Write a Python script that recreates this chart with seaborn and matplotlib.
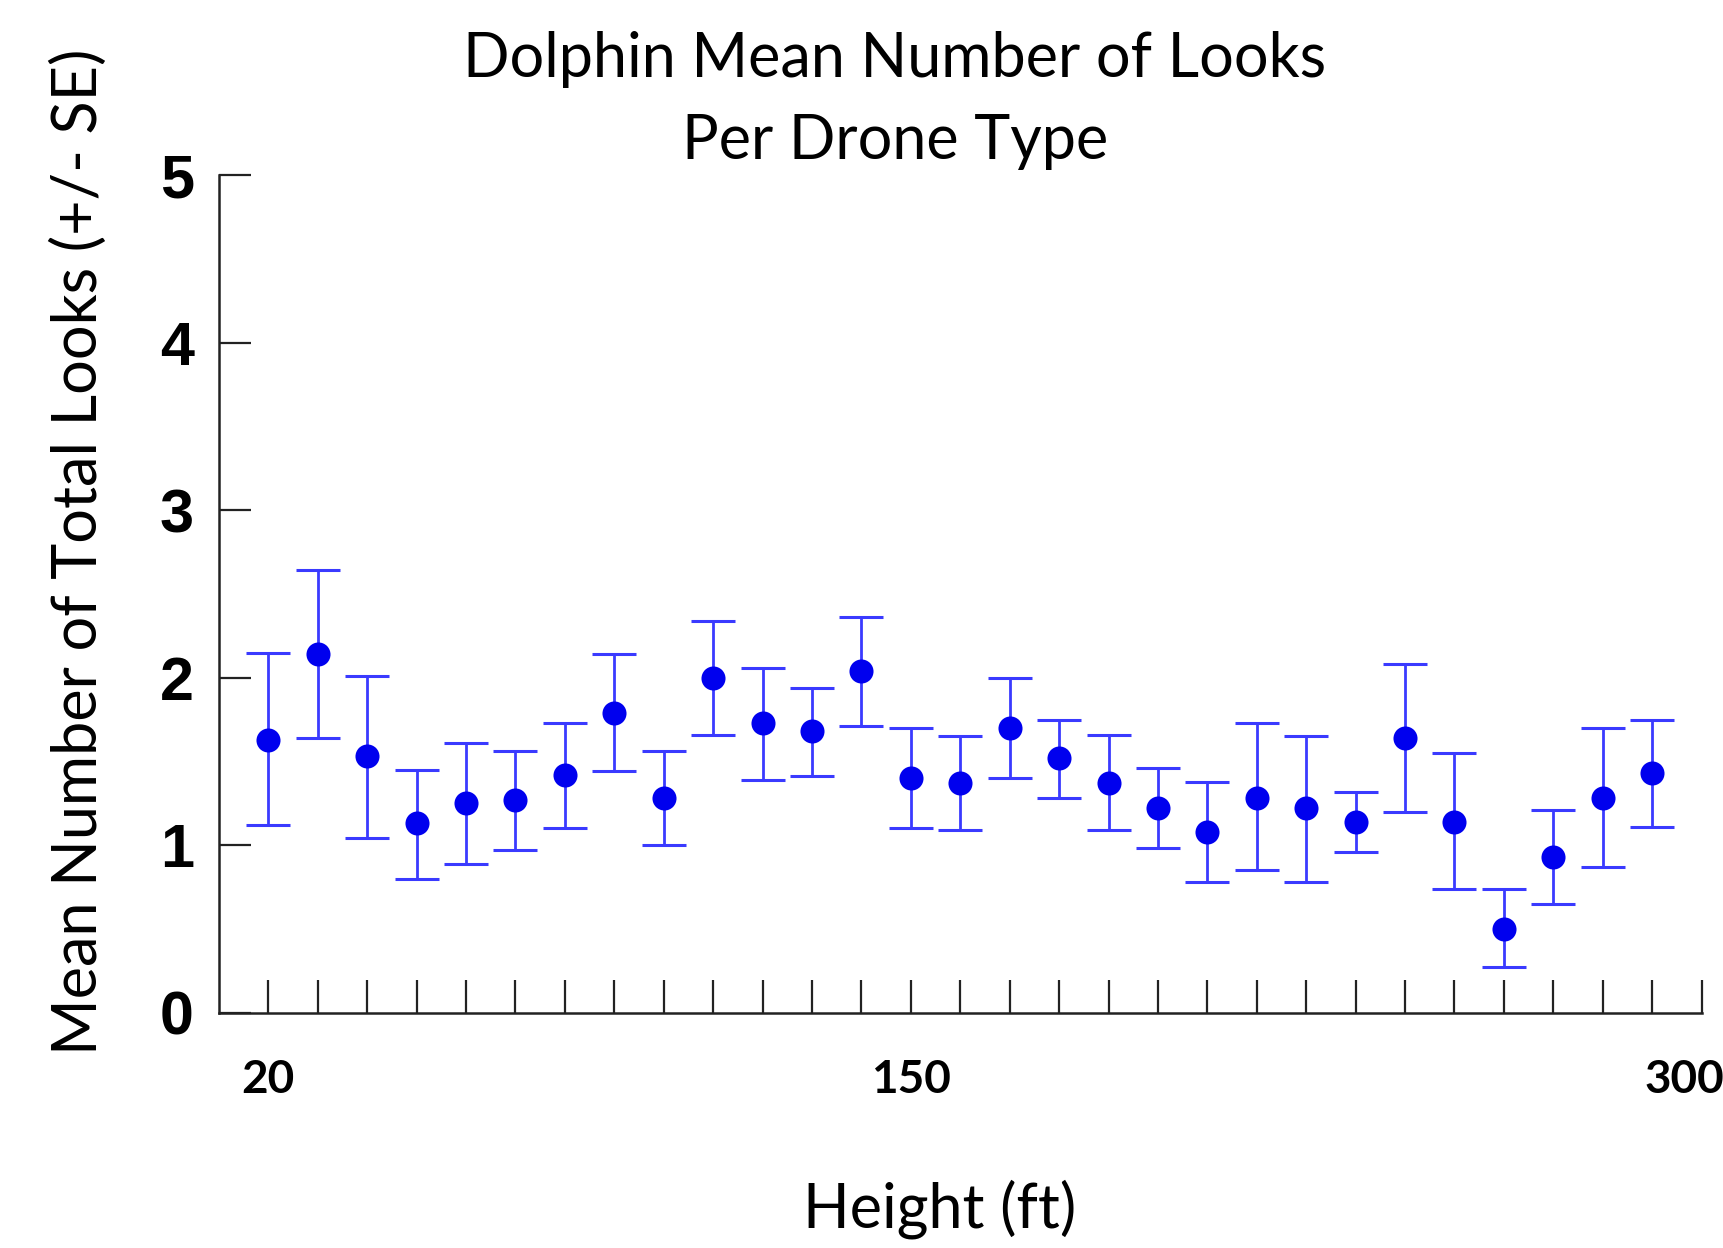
import matplotlib
matplotlib.use("Agg")
import matplotlib.pyplot as plt
import matplotlib.transforms as mtransforms
import seaborn as sns
import pandas as pd

# ---- data ----
heights = [20, 30, 40, 50, 60, 70, 80, 90, 100, 110, 120, 130, 140, 150, 160,
           170, 180, 190, 200, 210, 220, 230, 240, 250, 260, 270, 280, 290, 300]
mean_looks = [1.63, 2.14, 1.53, 1.13, 1.25, 1.27, 1.42, 1.79, 1.28, 2.00, 1.73, 1.68, 2.04, 1.40, 1.37,
              1.70, 1.52, 1.37, 1.22, 1.08, 1.28, 1.22, 1.14, 1.64, 1.14, 0.50, 0.93, 1.28, 1.43]
se_upper = [2.15, 2.64, 2.01, 1.45, 1.61, 1.56, 1.73, 2.14, 1.56, 2.34, 2.06, 1.94, 2.36, 1.70, 1.65,
            2.00, 1.75, 1.66, 1.46, 1.38, 1.73, 1.65, 1.32, 2.08, 1.55, 0.74, 1.21, 1.70, 1.75]
se_lower = [1.12, 1.64, 1.04, 0.80, 0.89, 0.97, 1.10, 1.44, 1.00, 1.66, 1.39, 1.41, 1.71, 1.10, 1.09,
            1.40, 1.28, 1.09, 0.98, 0.78, 0.85, 0.78, 0.96, 1.20, 0.74, 0.27, 0.65, 0.87, 1.11]
x_tick_positions = [20, 30, 40, 50, 60, 70, 80, 90, 100, 110, 120, 130, 140, 150, 160,
                    170, 180, 190, 200, 210, 220, 230, 240, 250, 260, 270, 280, 290, 300, 310]
x_label_positions = [20, 150, 300]
x_label_texts = ["20", "150", "300"]
y_ticks = [0, 1, 2, 3, 4, 5]

df = pd.DataFrame({"height": heights, "mean": mean_looks,
                   "upper": se_upper, "lower": se_lower})

sns.set_theme(style="white")
plt.rcParams["font.family"] = ["Lato", "DejaVu Sans"]

fig = plt.figure(figsize=(17.24, 12.48), dpi=100)
ax = fig.add_axes([0.127, 0.1886, 0.860, 0.671])

err_lo = df["mean"] - df["lower"]
err_hi = df["upper"] - df["mean"]
ax.errorbar(df["height"], df["mean"], yerr=[err_lo, err_hi], fmt="none",
            ecolor="#3a3aff", elinewidth=2.0, capsize=16, capthick=2.2, zorder=2)
sns.scatterplot(data=df, x="height", y="mean", ax=ax, color="#0000ee",
                s=300, edgecolor="#0000ee", linewidth=0, zorder=3, legend=False)

ax.set_xlim(10, 310)
ax.set_ylim(0, 5)

for side in ["top", "right"]:
    ax.spines[side].set_visible(False)
for side in ["left", "bottom"]:
    ax.spines[side].set_color("#222222")
    ax.spines[side].set_linewidth(1.8)

# x ticks: all minor-like ticks, labels only at a few
ax.set_xticks(x_tick_positions, labels=[""] * len(x_tick_positions))
ax.tick_params(axis="x", bottom=True, direction="in", length=24, width=1.6,
               color="#222222", pad=0)
ax.set_yticks(y_ticks)
ax.set_yticklabels([str(v) for v in y_ticks], fontfamily="Liberation Sans",
                   fontweight="bold", fontsize=44, color="black")
ax.tick_params(axis="y", left=True, direction="in", length=23, width=1.6,
               color="#222222", pad=18, labelcolor="black")

# x labels as text at data positions
for pos, txt in zip(x_label_positions, x_label_texts):
    off = 0.32 if txt == "300" else 0.0
    trans = ax.get_xaxis_transform() + mtransforms.ScaledTranslation(off, 0, fig.dpi_scale_trans)
    ax.text(pos, -0.055, txt, transform=trans, ha="center", va="top",
            fontsize=33, fontweight="bold", fontfamily="Lato", color="black",
            clip_on=False)

ax.set_xlabel("")
ax.set_ylabel("")
fig.text(940 / 1724, 1 - 1209 / 1248, "Height (ft)", ha="center", va="center",
         fontsize=44, fontfamily="Lato", color="black")
fig.text(79 / 1724, 1 - 552 / 1248, "Mean Number of Total Looks (+/- SE)", ha="center",
         va="center", rotation=90, fontsize=44, fontfamily="Lato", color="black")
fig.text(895 / 1724, 1 - 60 / 1248, "Dolphin Mean Number of Looks", ha="center",
         va="center", fontsize=44, fontfamily="Lato", color="black")
fig.text(895 / 1724, 1 - 141 / 1248, "Per Drone Type", ha="center",
         va="center", fontsize=44, fontfamily="Lato", color="black")

fig.savefig("out.png", dpi=100)
